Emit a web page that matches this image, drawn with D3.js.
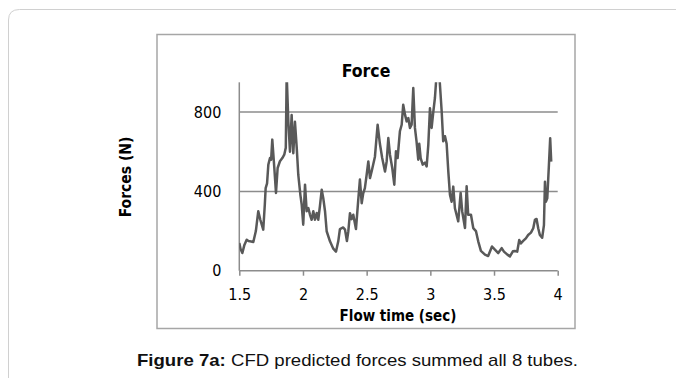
<!DOCTYPE html>
<html>
<head>
<meta charset="utf-8">
<script src="https://cdn.jsdelivr.net/npm/d3@7"></script>
<style>
body { margin: 0; background: #fff; }
svg { display: block; }
</style>
</head>
<body>
<script>
// flow time (sec) and summed force (N)
let times = [1.500, 1.510, 1.524, 1.540, 1.558, 1.572, 1.584, 1.610, 1.630, 1.649, 1.665, 1.688, 1.700, 1.707, 1.718,
    1.728, 1.741, 1.750, 1.759, 1.775, 1.788, 1.801, 1.819, 1.838, 1.853, 1.865, 1.872, 1.885, 1.898, 1.911, 1.924,
    1.937, 1.951, 1.963, 1.980, 1.990, 2.002, 2.016, 2.029, 2.042, 2.055, 2.068, 2.081, 2.094, 2.108, 2.120, 2.133,
    2.147, 2.159, 2.173, 2.186, 2.212, 2.238, 2.259, 2.277, 2.290, 2.316, 2.330, 2.345, 2.356, 2.369, 2.382, 2.395,
    2.416, 2.434, 2.447, 2.461, 2.473, 2.486, 2.500, 2.513, 2.526, 2.539, 2.565, 2.586, 2.604, 2.622, 2.644, 2.657,
    2.670, 2.683, 2.701, 2.717, 2.730, 2.743, 2.761, 2.775, 2.787, 2.801, 2.814, 2.827, 2.840, 2.853, 2.866, 2.879,
    2.892, 2.905, 2.913, 2.924, 2.940, 2.958, 2.971, 2.984, 2.997, 3.010, 3.023, 3.036, 3.049, 3.070, 3.089, 3.101,
    3.115, 3.128, 3.141, 3.154, 3.167, 3.180, 3.193, 3.219, 3.238, 3.250, 3.272, 3.285, 3.297, 3.319, 3.337, 3.358,
    3.376, 3.397, 3.429, 3.454, 3.484, 3.507, 3.533, 3.560, 3.578, 3.605, 3.625, 3.648, 3.664, 3.682, 3.698, 3.711,
    3.729, 3.750, 3.768, 3.790, 3.808, 3.821, 3.834, 3.847, 3.860, 3.878, 3.892, 3.900, 3.907, 3.918, 3.931, 3.941,
    3.949];
let forces = [140, 110, 89, 130, 156, 150, 148, 145, 200, 300, 257, 207, 330, 417, 440,
    535, 568, 560, 661, 518, 392, 518, 552, 568, 585, 620, 990, 751, 600, 785, 592,
    751, 619, 484, 380, 333, 232, 434, 300, 316, 282, 257, 300, 257, 291, 257, 325,
    408, 367, 300, 199, 148, 111, 96, 148, 210, 218, 207, 150, 199, 290, 260, 282,
    210, 357, 460, 340, 390, 416, 484, 551, 467, 500, 575, 736, 640, 568, 500, 551,
    669, 585, 518, 434, 602, 568, 703, 736, 837, 787, 753, 770, 720, 736, 921, 720,
    650, 560, 640, 568, 535, 545, 526, 635, 819, 720, 800, 871, 990, 990, 804, 653,
    678, 640, 501, 383, 348, 424, 315, 249, 392, 300, 215, 426, 282, 282, 215, 200,
    148, 100, 81, 74, 122, 106, 89, 114, 96, 81, 72, 98, 99, 96, 155, 138,
    150, 163, 180, 192, 214, 256, 261, 214, 180, 166, 230, 449, 348, 365, 533, 668,
    550];
let xTicks = [1.5, 2, 2.5, 3, 3.5, 4];
let yTicks = [0, 400, 800];
let yMax = 950;

function drawChart() {
    let svg = d3.select('body').append('svg')
        .attr('width', 676)
        .attr('height', 378);

    // page card outline
    svg.append('path')
        .attr('d', 'M8.5,378 L8.5,20 Q8.5,9.5 19.5,9.5 L676,9.5')
        .attr('fill', 'none')
        .attr('stroke', '#d0d0d0')
        .attr('stroke-width', 1);

    // chart frame
    svg.append('rect')
        .attr('x', 157)
        .attr('y', 34.5)
        .attr('width', 418)
        .attr('height', 294)
        .attr('fill', '#fff')
        .attr('stroke', '#a6a6a6')
        .attr('stroke-width', 1.5);

    let xLow = 239.3, xHigh = 557.7;
    let yLow = 270.7, yHigh = 270.7 - yMax * 0.1983;

    let xScale = d3.scaleLinear()
        .domain([1.5, 4])
        .range([xLow, xHigh]);
    let yScale = d3.scaleLinear()
        .domain([0, yMax])
        .range([yLow, yHigh]);

    let font = '"DejaVu Sans Condensed", "Liberation Sans Narrow", sans-serif';

    // gridlines
    svg.append('g')
        .attr('class', 'grid')
        .selectAll('line')
        .data(yTicks.filter(d => d > 0))
        .enter().append('line')
        .attr('x1', xLow)
        .attr('x2', xHigh)
        .attr('y1', d => yScale(d))
        .attr('y2', d => yScale(d))
        .attr('stroke', '#8c8c8c')
        .attr('stroke-width', 1.5);

    let xAxis = d3.axisBottom(xScale)
        .tickValues(xTicks)
        .tickSize(5)
        .tickPadding(13)
        .tickFormat(d3.format('~g'));
    let gx = svg.append('g')
        .attr('class', 'x axis')
        .attr('transform', 'translate(0,' + yLow + ')')
        .call(xAxis);
    gx.select('.domain')
        .attr('d', 'M' + xLow + ',0H' + xHigh)
        .attr('stroke', '#8c8c8c')
        .attr('stroke-width', 1.5);
    gx.selectAll('.tick line').attr('stroke', '#8c8c8c').attr('stroke-width', 1.5);
    gx.selectAll('.tick text')
        .attr('font-family', font)
        .attr('font-size', 16)
        .attr('fill', '#000');

    let yAxis = d3.axisLeft(yScale)
        .tickValues(yTicks)
        .tickSize(0)
        .tickPadding(18);
    let gy = svg.append('g')
        .attr('class', 'y axis')
        .attr('transform', 'translate(' + xLow + ',0)')
        .call(yAxis);
    gy.select('.domain')
        .attr('d', 'M0,' + yHigh + 'V' + yLow)
        .attr('stroke', '#8c8c8c')
        .attr('stroke-width', 1.5);
    gy.selectAll('.tick text')
        .attr('font-family', font)
        .attr('font-size', 16)
        .attr('fill', '#000');

    // line, clipped at the axis top like the original
    svg.append('clipPath')
        .attr('id', 'plotclip')
        .append('rect')
        .attr('x', xLow)
        .attr('y', yHigh)
        .attr('width', xHigh - xLow)
        .attr('height', yLow - yHigh);

    let points = times.map((t, i) => [t, forces[i]]);
    let line = d3.line()
        .x(d => xScale(d[0]))
        .y(d => yScale(d[1]));
    svg.append('path')
        .datum(points)
        .attr('clip-path', 'url(#plotclip)')
        .attr('d', line)
        .attr('fill', 'none')
        .attr('stroke', '#595959')
        .attr('stroke-width', 2.5)
        .attr('stroke-linejoin', 'round');

    // titles
    svg.append('text')
        .attr('x', 366)
        .attr('y', 77)
        .attr('text-anchor', 'middle')
        .attr('font-family', font)
        .attr('font-weight', 'bold')
        .attr('font-size', 17.5)
        .text('Force');

    svg.append('text')
        .attr('x', 398)
        .attr('y', 321)
        .attr('text-anchor', 'middle')
        .attr('font-family', font)
        .attr('font-weight', 'bold')
        .attr('font-size', 15)
        .text('Flow time (sec)');

    svg.append('text')
        .attr('transform', 'translate(131,177) rotate(-90)')
        .attr('text-anchor', 'middle')
        .attr('font-family', font)
        .attr('font-weight', 'bold')
        .attr('font-size', 15.5)
        .text('Forces (N)');

    // caption
    let cap = svg.append('text')
        .attr('x', 137)
        .attr('y', 366)
        .attr('font-family', '"Liberation Sans", Arial, sans-serif')
        .attr('font-size', 17)
        .attr('textLength', 441)
        .attr('lengthAdjust', 'spacingAndGlyphs')
        .attr('fill', '#111');
    cap.append('tspan').attr('font-weight', 'bold').text('Figure 7a:');
    cap.append('tspan').text(' CFD predicted forces summed all 8 tubes.');
}

drawChart();
</script>
</body>
</html>
